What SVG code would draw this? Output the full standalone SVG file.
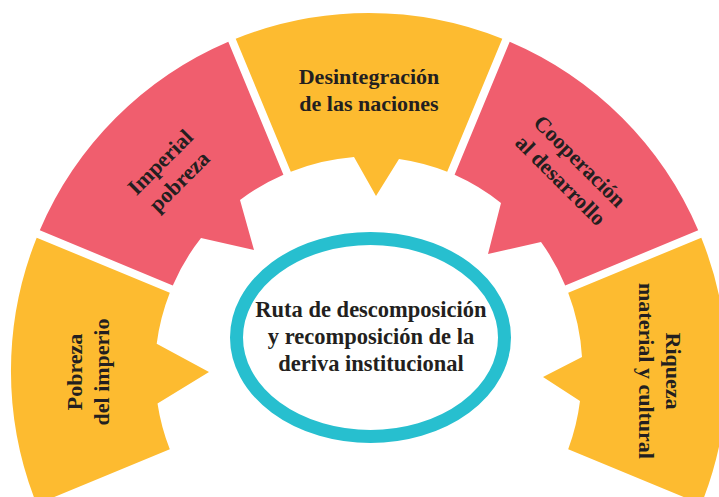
<svg xmlns="http://www.w3.org/2000/svg" width="719" height="497" viewBox="0 0 719 497">
<style>
.y{fill:#FDBB30}
.r{fill:#F05E6E}
.t{font-family:"Liberation Serif","Times New Roman",serif;font-weight:bold;font-size:22px;fill:#231F20;text-anchor:middle}
</style>
<rect width="719" height="497" fill="#FFFFFF"/>
<g id="pobreza-del-imperio">
<path class="y" d="M36.7,504.3 A358,358 0 0 1 36.7,237.7 L169.8,292.8 A214,214 0 0 0 156.7,343.8 L209,372 L157.5,403.4 A214,214 0 0 0 169.8,449.2 Z"/>
<g transform="translate(88,372) rotate(-90)"><text class="t" x="0" y="-6.5">Pobreza</text><text class="t" x="0" y="20.5">del imperio</text></g>
</g>
<g id="imperial-pobreza">
<path class="r" d="M39.8,230.3 A358,358 0 0 1 228.3,41.8 L283.4,174.8 A214,214 0 0 0 240,200 L254,250 L201,238 A214,214 0 0 0 172.8,285.4 Z"/>
<g transform="translate(170,172) rotate(-45)"><text class="t" x="0" y="-6.5">Imperial</text><text class="t" x="0" y="20.5">pobreza</text></g>
</g>
<g id="desintegracion">
<path class="y" d="M235.7,38.7 A358,358 0 0 1 502.3,38.7 L447.2,171.8 A214,214 0 0 0 399,159 L376,196 L354,157 A214,214 0 0 0 290.8,171.8 Z"/>
<text class="t" x="369" y="84">Desintegración</text>
<text class="t" x="369" y="111">de las naciones</text>
</g>
<g id="cooperacion">
<path class="r" d="M509.7,41.8 A358,358 0 0 1 698.2,230.3 L565.2,285.4 A214,214 0 0 0 541,242 L488,254 L501,203 A214,214 0 0 0 454.6,174.8 Z"/>
<g transform="translate(570,171) rotate(45)"><text class="t" x="0" y="-6.5">Cooperación</text><text class="t" x="0" y="20.5">al desarrollo</text></g>
</g>
<g id="riqueza">
<path class="y" d="M701.3,237.7 A358,358 0 0 1 701.3,504.3 L568.2,449.2 A214,214 0 0 0 580,401 L543,377 L582,357 A214,214 0 0 0 568.2,292.8 Z"/>
<g transform="translate(659,371) rotate(90)"><text class="t" x="0" y="-6.5">Riqueza</text><text class="t" x="0" y="20.5">material y cultural</text></g>
</g>
<g id="centro">
<ellipse cx="370.5" cy="337.5" rx="134" ry="99" fill="#FFFFFF" stroke="#27BFCF" stroke-width="13"/>
<text class="t" x="371" y="317" style="font-size:22.5px">Ruta de descomposición</text>
<text class="t" x="371" y="344" style="font-size:22.5px">y recomposición de la</text>
<text class="t" x="371" y="371" style="font-size:22.5px">deriva institucional</text>
</g>
</svg>
